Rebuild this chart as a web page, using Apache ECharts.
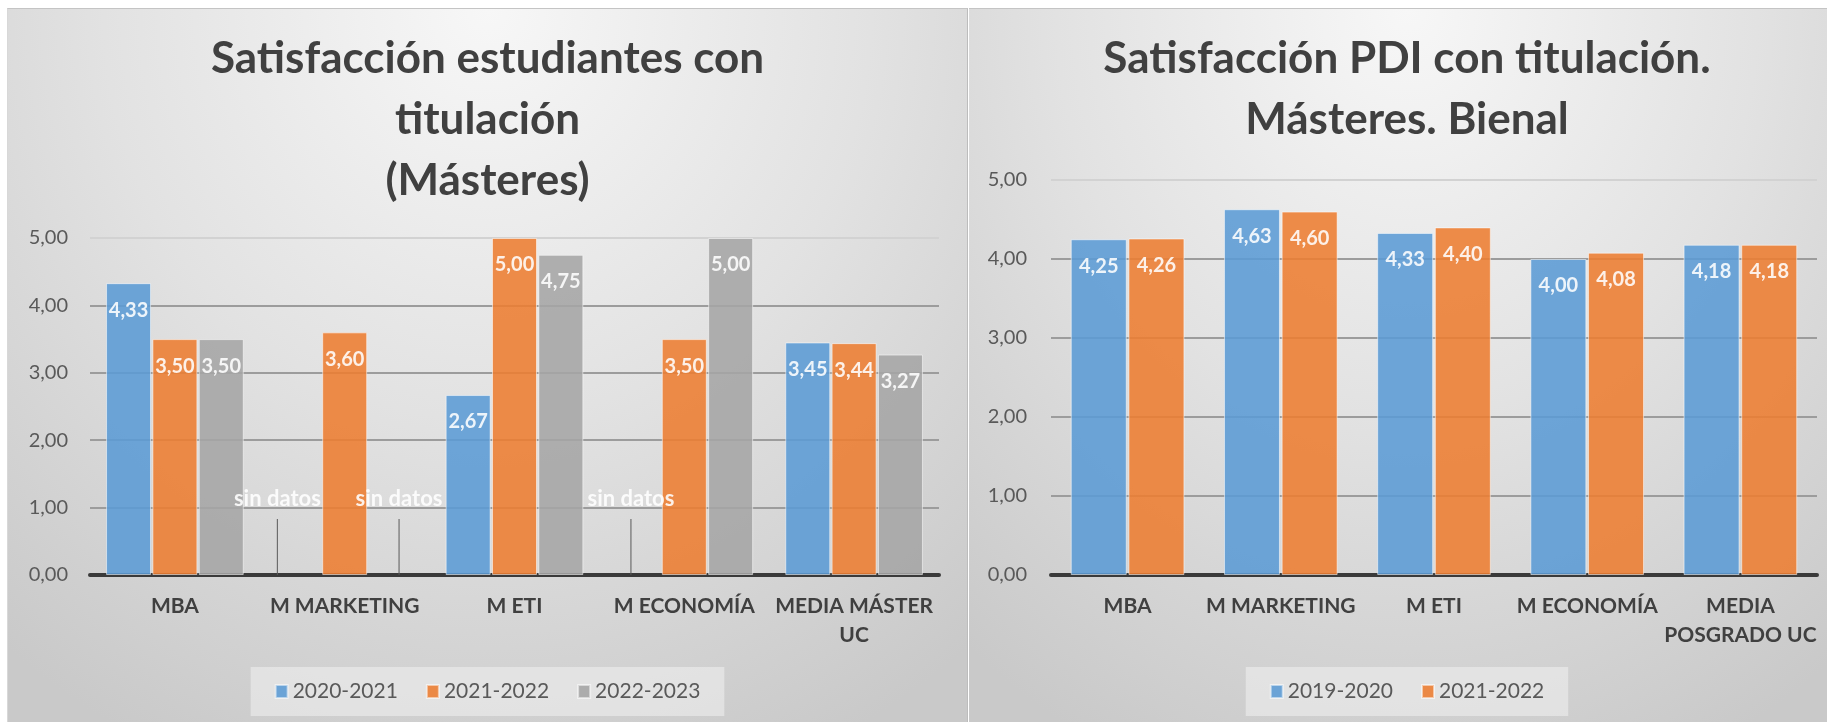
<!DOCTYPE html>
<html><head><meta charset="utf-8">
<script src="https://cdn.jsdelivr.net/npm/echarts@6/dist/echarts.min.js"></script>
<style>
html,body{margin:0;padding:0;background:#fff;width:1827px;height:722px;overflow:hidden;position:relative}
.panel{position:absolute;top:8px;height:714px;box-sizing:border-box;border-top:1px solid #c4c4c4;
  background:radial-gradient(ellipse 80% 115% at 50% 0%, #f7f7f7 0%, #e2e2e2 50%, #c9c9c9 100%)}
#left{left:7px;width:961px;border-left:1px solid #d8d8d8;border-right:1px solid #bcbcbc}
#right{left:969px;width:876px}
</style></head><body>
<div id="left" class="panel"></div><div id="right" class="panel"></div>
<script>
// ---------- data ----------
const categoriesLeft = ['MBA', 'M MARKETING', 'M ETI', 'M ECONOMÍA', 'MEDIA MÁSTER\nUC'];
const seriesNamesLeft = ['2020-2021', '2021-2022', '2022-2023'];
const est2020_2021 = [4.33, null, 2.67, null, 3.45];
const est2021_2022 = [3.50, 3.60, 5.00, 3.50, 3.44];
const est2022_2023 = [3.50, null, 4.75, 5.00, 3.27];

const categoriesRight = ['MBA', 'M MARKETING', 'M ETI', 'M ECONOMÍA', 'MEDIA\nPOSGRADO UC'];
const seriesNamesRight = ['2019-2020', '2021-2022'];
const pdi2019_2020 = [4.25, 4.63, 4.33, 4.00, 4.18];
const pdi2021_2022 = [4.26, 4.60, 4.40, 4.08, 4.18];

const yMin = 0, yMax = 5, yInterval = 1;
const noDataText = 'sin datos';

const titleLeft = 'Satisfacción estudiantes con\ntitulación\n(Másteres)';
const titleRight = 'Satisfacción PDI con titulación.\nMásteres. Bienal';

// ---------- style ----------
const FONT = 'Lato, "Open Sans", sans-serif';
const COLORS = ['#5b9bd5', '#ed7d31', '#a5a5a5'];
// horizontal shift of the "sin datos" labels (left chart), keyed seriesIndex-dataIndex
const noDataShiftLeft = {'0-1': -21, '2-1': 8, '0-3': -7};

function fmt(v) { return Number(v).toFixed(2).replace('.', ','); }

function makeSeries(name, values, color, barWidth) {
  return {
    type: 'bar', name: name, barWidth: barWidth, barGap: '3%',
    itemStyle: {color: color, opacity: 0.88, borderColor: 'rgba(255,255,255,0.6)', borderWidth: 1},
    label: {show: true, position: 'insideTop', distance: 15, color: '#fff', fontFamily: FONT,
      fontWeight: 'bold', fontSize: 20, lineHeight: 24, formatter: p => fmt(p.value)},
    labelLine: {show: false},
    data: values.map(v => v === null ? {
      value: 0,
      itemStyle: {borderWidth: 0},
      label: {position: 'top', distance: 5, formatter: noDataText, fontSize: 22, padding: [0, 0, 8, 0]},
      labelLine: {show: true, lineStyle: {color: '#595959', width: 1}}
    } : v)
  };
}

function makeOption(title, titleTop, titleLH, categories, names, seriesArr, grid, barWidth, yMargin, shift) {
  return {
    animation: false,
    backgroundColor: 'transparent',
    color: COLORS,
    title: {text: title, left: 'center', top: titleTop,
      textStyle: {fontFamily: FONT, fontWeight: 'bold', fontSize: 44, lineHeight: titleLH, color: '#404040'}},
    legend: {data: names, top: 658, left: 'center', icon: 'rect', itemWidth: 12, itemHeight: 13, itemGap: 28,
      padding: [14, 24], backgroundColor: 'rgba(238,238,238,0.6)',
      textStyle: {fontFamily: FONT, fontSize: 21, color: '#595959', lineHeight: 18}},
    grid: grid,
    xAxis: {type: 'category', data: categories,
      axisLine: {lineStyle: {color: '#3a3a3a', width: 4}}, axisTick: {show: false},
      axisLabel: {interval: 0, fontFamily: FONT, fontWeight: 'bold', fontSize: 21, color: '#404040', lineHeight: 29, margin: 17}},
    yAxis: {type: 'value', min: yMin, max: yMax, interval: yInterval,
      axisLine: {show: false}, axisTick: {show: false},
      axisLabel: {formatter: v => fmt(v), fontFamily: FONT, fontSize: 20, color: '#595959', margin: yMargin},
      splitLine: {lineStyle: {color: ['#9c9c9c', '#9c9c9c', '#9c9c9c', '#9c9c9c', '#9c9c9c', '#d2d2d2'], width: 2}}},
    labelLayout: function (p) {
      const k = p.seriesIndex + '-' + p.dataIndex;
      if (k in shift) return {dx: shift[k], dy: -51};
      return {};
    },
    series: seriesArr.map((vals, i) => makeSeries(names[i], vals, COLORS[i], barWidth))
  };
}

const chartL = echarts.init(document.getElementById('left'));
chartL.setOption(makeOption(titleLeft, 14, 61, categoriesLeft, seriesNamesLeft,
  [est2020_2021, est2021_2022, est2022_2023],
  {left: 82, right: 28, top: 229, bottom: 147}, 45, 22, noDataShiftLeft));

const chartR = echarts.init(document.getElementById('right'));
chartR.setOption(makeOption(titleRight, 14, 61, categoriesRight, seriesNamesRight,
  [pdi2019_2020, pdi2021_2022],
  {left: 82, right: 28, top: 171, bottom: 147}, 56, 24, {}));
</script>
</body></html>
